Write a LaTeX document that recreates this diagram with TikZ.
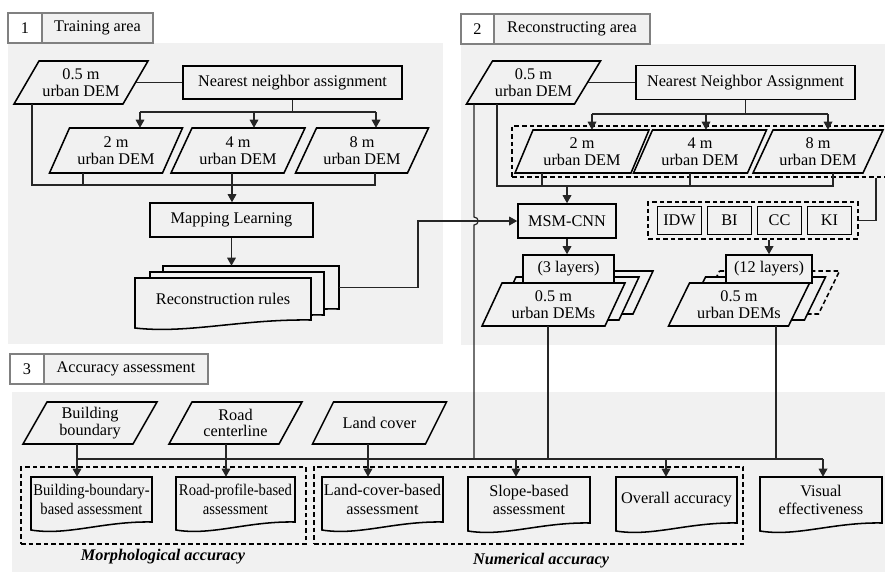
\documentclass[tikz,border=0pt]{standalone}
\usepackage{fontspec}
\setmainfont{Liberation Serif}
\newfontfamily\condfont[FakeStretch=0.9]{Liberation Serif}
\usetikzlibrary{arrows.meta,calc}
\definecolor{panelgray}{gray}{0.945}
\definecolor{tabline}{gray}{0.5}
\newcommand\dfont{\fontsize{12.2}{12.4}\selectfont}
\newcommand\docfont{\fontsize{12.2}{14}\selectfont}
\tikzset{
  shp/.style={draw=black, line width=1.15pt, fill=panelgray, line join=miter},
  txt/.style={font=\dfont, align=center, inner sep=0pt},
  boxnode/.style={shp, txt},
  conn/.style={line width=0.9pt, draw=black!85},
  arr/.style={conn, -{Triangle[length=6pt,width=6.5pt]}},
  dashbox/.style={draw=black, line width=0.9pt, dash pattern=on 3.5pt off 2.2pt, inner sep=0pt},
  dashshp/.style={dash pattern=on 3.5pt off 2.2pt},
  tabnum/.style={draw=tabline, line width=0.8pt, fill=white, font=\dfont, inner sep=0pt},
  tablab/.style={draw=tabline, line width=0.8pt, fill=panelgray, font=\dfont, inner sep=0pt},
  caption/.style={font=\dfont\bfseries\itshape, inner sep=0pt},
}
% parallelogram outline: [opt]{cx}{cy}{w}{h}{s}
\newcommand\pgmpath[6][]{%
  \path[shp,#1] ({#2-#4/2+#6/2},{#3-#5/2}) -- ({#2+#4/2+#6/2},{#3-#5/2})
    -- ({#2+#4/2-#6/2},{#3+#5/2}) -- ({#2-#4/2-#6/2},{#3+#5/2}) -- cycle;}
% parallelogram with node: {name}{cx}{cy}{w}{h}{s}{text}
\newcommand\pgm[7]{%
  \pgmpath{#2}{#3}{#4}{#5}{#6}
  \node[txt, minimum width={0.75pt*#4}, minimum height={0.75pt*#5}] (#1) at (#2,#3) {#7};}
% document outline: [opt]{x1}{x2}{y1}{yb}
\newcommand\docpath[5][]{%
  \path[shp,#1] (#2,#4) -- (#3,#4) -- (#3,{#5-8})
    .. controls ({#2+0.6*(#3-#2)},{#5-9}) and ({#2+0.3*(#3-#2)},{#5+6}) .. (#2,#5) -- cycle;}
% document with node: [opt]{name}{x1}{x2}{y1}{yb}{text}
\newcommand\doc[7][]{%
  \docpath{#3}{#4}{#5}{#6}
  \node[txt, font=\docfont, #1, minimum width={0.75pt*(#4-#3)}, minimum height={0.75pt*(#6-8-#5)}]
    (#2) at ({(#3+#4)/2},{(#5+#6-8)/2}) {#7};}

\begin{document}
\begin{tikzpicture}[x=0.75pt,y=-0.75pt]
\useasboundingbox (0,0) rectangle (885,572);
% ---------- panels ----------
\fill[panelgray] (8,43) rectangle (443,344);
\fill[panelgray] (461,44) rectangle (885,345);
\fill[panelgray] (12,392) rectangle (885,572);
% ---------- tabs ----------
\node[tabnum, minimum width={0.75pt*34}, minimum height=22.5pt] (t1n) at (25,28) {1};
\node[tablab, minimum width={0.75pt*111}, minimum height=22.5pt] (t1l) at (97.5,28) {Training area};
\node[tabnum, minimum width={0.75pt*33}, minimum height=22.5pt] (t2n) at (477.5,29) {2};
\node[tablab, minimum width={0.75pt*156}, minimum height=22.5pt] (t2l) at (572,29) {Reconstructing area};
\node[tabnum, minimum width={0.75pt*34}, minimum height=22.5pt] (t3n) at (27,369) {3};
\node[tablab, minimum width={0.75pt*164}, minimum height=22.5pt] (t3l) at (126,369) {Accuracy assessment};

% ================= Section 1 =================
\pgm{da}{81}{82.5}{109}{43}{25}{0.5 m\\urban DEM}
\node[boxnode, minimum width={0.75pt*219}, minimum height={0.75pt*33}] (na) at (292.5,82.5) {Nearest neighbor assignment};
\pgm{a2}{116}{150.5}{113}{45}{20}{2 m\\urban DEM}
\pgm{a4}{238}{150.5}{113}{45}{21}{4 m\\urban DEM}
\pgm{a8}{362}{150.5}{112}{45}{21}{8 m\\urban DEM}
\node[boxnode, minimum width={0.75pt*163}, minimum height={0.75pt*34}] (ml) at (231.5,220) {Mapping Learning};
\doc{rb}{163}{339}{266}{317}{}
\docpath{150}{324}{272}{323}
\doc{rr}{135}{311}{278}{328}{Reconstruction rules}

\draw[conn] (da.east) -- (na.west);
\coordinate (j1l) at (140,112);
\coordinate (j1m) at (254,112);
\coordinate (j1r) at (376,112);
\draw[conn] (na.south) -- (na.south |- j1l);
\draw[conn] (j1l) -- (j1r);
\draw[arr] (j1l) -- (j1l |- a2.north);
\draw[arr] (j1m) -- (j1m |- a4.north);
\draw[arr] (j1r) -- (j1r |- a8.north);
\coordinate (c1a) at (32,185);
\coordinate (c1b) at (83,185);
\coordinate (c1c) at (232,185);
\coordinate (c1d) at (375,185);
\draw[conn] (c1a |- da.south) -- (c1a) -- (c1d) -- (c1d |- a8.south);
\draw[conn] (c1b |- a2.south) -- (c1b);
\draw[arr] (c1c |- a4.south) -- (c1c |- ml.north);
\draw[arr] (ml.south) -- (ml.south |- rb.north);

% ================= Section 2 =================
\pgm{db}{533.5}{82.5}{108}{43}{26}{0.5 m\\urban DEM}
\node[boxnode, minimum width={0.75pt*219}, minimum height={0.75pt*34}] (nb) at (745.5,82.5) {Nearest Neighbor Assignment};
\node[dashbox, minimum width={0.75pt*377}, minimum height={0.75pt*51}] (gb) at (700.5,151.5) {};
\pgm{b2}{582}{151.5}{116}{43}{18}{2 m\\urban DEM}
\pgm{b4}{700}{151.5}{114}{43}{19}{4 m\\urban DEM}
\pgm{b8}{818}{151.5}{110}{43}{20}{8 m\\urban DEM}
\node[boxnode, minimum width={0.75pt*98}, minimum height={0.75pt*34}] (ms) at (567,221) {MSM-CNN};
\node[dashbox, minimum width={0.75pt*210}, minimum height={0.75pt*37}] (gi) at (753,220.5) {};
\node[boxnode, minimum width={0.75pt*44}, minimum height={0.75pt*28}] (idw) at (679.5,220.5) {IDW};
\node[boxnode, minimum width={0.75pt*44}, minimum height={0.75pt*28}] (bi) at (729.5,220.5) {BI};
\node[boxnode, minimum width={0.75pt*44}, minimum height={0.75pt*28}] (cc) at (779.5,220.5) {CC};
\node[boxnode, minimum width={0.75pt*44}, minimum height={0.75pt*28}] (ki) at (829.5,220.5) {KI};
% 3 layers stack
\pgmpath{581.5}{292.5}{123}{43}{20}
\pgmpath{567.5}{298.5}{123}{43}{20}
\pgm{s3}{553.5}{304.5}{123}{43}{20}{0.5 m\\urban DEMs}
\node[boxnode, minimum width={0.75pt*91}, minimum height={0.75pt*28}] (l3) at (568.5,269) {(3 layers)};
% 12 layers stack
\pgmpath[dashshp]{769}{292.5}{120}{43}{21}
\pgmpath{755}{298.5}{120}{43}{21}
\pgm{s12}{739}{304.5}{120}{43}{21}{0.5 m\\urban DEMs}
\node[boxnode, minimum width={0.75pt*86}, minimum height={0.75pt*28}] (l12) at (769,269) {(12 layers)};

\draw[conn] (db.east) -- (nb.west);
\coordinate (j2l) at (592,114);
\coordinate (j2m) at (706,114);
\coordinate (j2r) at (828,114);
\draw[conn] (nb.south) -- (nb.south |- j2l);
\draw[conn] (j2l) -- (j2r);
\draw[arr] (j2l) -- (j2l |- b2.north);
\draw[arr] (j2m) -- (j2m |- b4.north);
\draw[arr] (j2r) -- (j2r |- b8.north);
\coordinate (c2a) at (497,186);
\coordinate (c2b) at (542,186);
\coordinate (c2d) at (690,186);
\coordinate (c2e) at (833,186);
\draw[conn] (c2a |- db.south) -- (c2a) -- (c2e) -- (c2e |- b8.south);
\draw[conn] (c2b |- b2.south) -- (c2b);
\draw[conn] (c2d |- b4.south) -- (c2d);
\draw[arr] (ms.north |- c2a) -- (ms.north);
\coordinate (k1) at (876,220.5);
\draw[conn] (k1 |- gb.south) -- (k1) -- (gi.east);
\draw[arr] (ms.south) -- (ms.south |- l3.north);
\draw[arr] (l12.north |- gi.south) -- (l12.north);
% rules -> MSM-CNN
\coordinate (r1) at (418,221);
\draw[arr] (rb.east) -| (r1) -- (ms.west);

% ================= Section 3 =================
\pgm{bb}{90}{423}{110}{42}{24}{Building\\boundary}
\pgm{rc}{235.5}{423}{110}{42}{23}{Road\\centerline}
\pgm{lc}{379.5}{423}{113}{42}{21}{Land cover}
\node[dashbox, minimum width={0.75pt*285}, minimum height={0.75pt*77}] (mo) at (163.5,505.5) {};
\node[dashbox, minimum width={0.75pt*429}, minimum height={0.75pt*77}] (nu) at (528.5,505.5) {};
\doc[font={\condfont\docfont}]{dbb}{31}{152}{477}{530}{Building-boundary-\\based assessment}
\doc[font={\condfont\docfont}]{drp}{176}{295}{477}{530}{Road-profile-based\\assessment}
\doc{dlc}{322}{443}{477}{530}{Land-cover-based\\assessment}
\doc{dsl}{468}{590}{477}{531}{Slope-based\\assessment}
\doc{dov}{616}{737}{477}{531}{Overall accuracy}
\doc{dve}{760}{882}{477}{531}{Visual\\effectiveness}
\node[caption] (mol) at (163,557) {Morphological accuracy};
\node[caption] (nul) at (541,561) {Numerical accuracy};

% vertical feeds into trunk
\coordinate (v1) at (474,459);
\draw[conn] (v1 |- db.south) -- (474,217) .. controls (479.5,217) and (479.5,225) .. (474,225) -- (v1);
\coordinate (v3) at (548,459);
\draw[conn] (v3 |- s3.south) -- (v3);
\coordinate (v12) at (776,459);
\draw[conn] (v12 |- s12.south) -- (v12);
% trunk
\coordinate (tA) at (77,459);
\coordinate (tB) at (226,459);
\coordinate (tC) at (368,459);
\coordinate (tD) at (516,459);
\coordinate (tE) at (666,459);
\coordinate (tF) at (823,459);
\draw[conn] (tA) -- (tF);
\draw[arr] (tA |- bb.south) -- (tA |- dbb.north);
\draw[arr] (tB |- rc.south) -- (tB |- drp.north);
\draw[arr] (tC |- lc.south) -- (tC |- dlc.north);
\draw[arr] (tD) -- (tD |- dsl.north);
\draw[arr] (tE) -- (tE |- dov.north);
\draw[arr] (tF) -- (tF |- dve.north);
\end{tikzpicture}
\end{document}
